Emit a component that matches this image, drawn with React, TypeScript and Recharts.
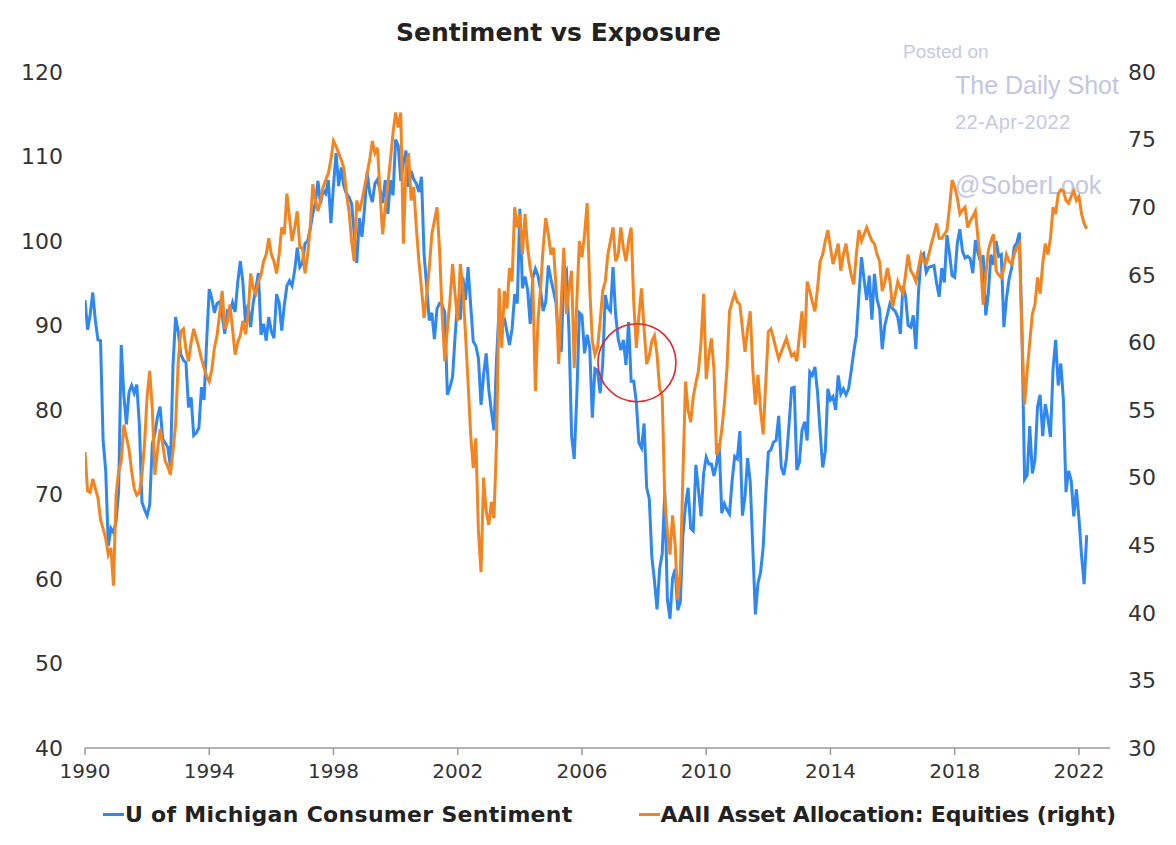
import React from "react";
import { LineChart, Line, XAxis, YAxis, ReferenceDot } from "recharts";

const startYear = 1990;

// U of Michigan Consumer Sentiment, one row per year (Jan..Dec)
const sentiment: number[][] = [
  [93.0, 89.5, 91.3, 93.9, 90.6, 88.3, 88.2, 76.4, 72.8, 63.9, 66.0, 65.5],
  [66.8, 70.4, 87.7, 81.8, 78.3, 82.1, 82.9, 82.0, 83.0, 78.3, 69.1, 68.2],
  [67.5, 68.8, 76.0, 77.2, 79.2, 80.4, 76.6, 76.1, 75.6, 73.3, 85.3, 91.0],
  [89.3, 86.6, 85.9, 85.6, 80.3, 81.5, 77.0, 77.3, 77.9, 82.7, 81.2, 88.2],
  [94.3, 93.2, 91.5, 92.6, 92.8, 91.2, 89.0, 91.7, 91.5, 92.7, 91.6, 95.1],
  [97.6, 95.1, 90.3, 92.5, 89.8, 92.7, 94.4, 96.2, 88.9, 90.2, 88.2, 91.0],
  [89.3, 88.5, 93.7, 92.7, 89.4, 92.4, 94.7, 95.3, 94.7, 96.5, 99.2, 96.9],
  [97.4, 99.7, 100.0, 101.4, 103.2, 104.5, 107.1, 104.4, 106.0, 105.6, 107.2, 102.1],
  [106.6, 110.4, 106.5, 108.7, 106.5, 105.6, 105.2, 104.4, 100.9, 97.4, 102.7, 100.5],
  [103.9, 108.1, 105.7, 104.6, 106.8, 107.3, 106.0, 104.5, 107.2, 103.2, 107.2, 105.4],
  [112.0, 111.3, 107.1, 109.2, 110.7, 106.4, 108.3, 107.3, 106.8, 105.8, 107.6, 98.4],
  [94.7, 90.6, 91.5, 88.4, 92.0, 92.6, 92.4, 91.5, 81.8, 82.7, 83.9, 88.8],
  [93.0, 90.7, 95.7, 93.0, 96.9, 92.4, 88.1, 87.6, 86.1, 80.6, 84.2, 86.7],
  [82.4, 79.9, 77.6, 86.0, 92.1, 89.7, 90.9, 89.3, 87.7, 89.6, 93.7, 92.6],
  [103.8, 94.4, 95.8, 94.2, 90.2, 95.6, 96.7, 95.9, 94.2, 91.7, 92.8, 97.1],
  [95.5, 94.1, 92.6, 87.7, 86.9, 96.0, 96.5, 89.1, 76.9, 74.2, 81.6, 91.5],
  [91.2, 86.7, 88.9, 87.4, 79.1, 84.9, 84.7, 82.0, 85.4, 93.6, 92.1, 91.7],
  [96.9, 91.3, 88.4, 87.1, 88.3, 85.3, 90.4, 83.4, 83.4, 80.9, 76.1, 75.5],
  [78.4, 70.8, 69.5, 62.6, 59.8, 56.4, 61.2, 63.0, 70.3, 57.6, 55.3, 60.1],
  [61.2, 56.3, 57.3, 65.1, 68.7, 70.8, 66.0, 65.7, 73.5, 70.6, 67.4, 72.5],
  [74.4, 73.6, 73.6, 72.2, 73.6, 76.0, 67.8, 68.9, 68.2, 67.7, 71.6, 74.5],
  [74.2, 77.5, 67.5, 69.8, 74.3, 71.5, 63.7, 55.8, 59.5, 60.8, 63.7, 69.9],
  [75.0, 75.3, 76.2, 76.4, 79.3, 73.2, 72.3, 74.3, 78.3, 82.6, 82.7, 72.9],
  [73.8, 77.6, 78.6, 76.4, 84.5, 84.1, 85.1, 82.1, 77.5, 73.2, 75.1, 82.5],
  [81.2, 81.6, 80.0, 84.1, 81.9, 82.5, 81.8, 82.5, 84.6, 86.9, 88.8, 93.6],
  [98.1, 95.4, 93.0, 95.9, 90.7, 96.1, 93.1, 91.9, 87.2, 90.0, 91.3, 92.6],
  [92.0, 91.7, 91.0, 89.0, 94.7, 93.5, 90.0, 89.8, 91.2, 87.2, 93.8, 98.2],
  [98.5, 96.3, 96.9, 97.0, 97.1, 95.0, 93.4, 96.8, 95.1, 100.7, 98.5, 95.9],
  [95.7, 99.7, 101.4, 98.8, 98.0, 98.2, 97.9, 96.2, 100.1, 98.6, 97.5, 98.3],
  [91.2, 93.8, 98.4, 97.2, 100.0, 98.2, 98.4, 89.8, 93.2, 95.5, 96.8, 99.3],
  [99.8, 101.0, 89.1, 71.8, 72.3, 78.1, 72.5, 74.1, 80.4, 81.8, 76.9, 80.7],
  [79.0, 76.8, 84.9, 88.3, 82.9, 85.5, 81.2, 70.3, 72.8, 71.7, 67.4, 70.6],
  [67.2, 62.8, 59.4, 65.2],
];

// AAII Asset Allocation: Equities (%), one row per year (Jan..Dec)
const equities: number[][] = [
  [51.9, 49.0, 48.9, 49.9, 49.2, 48.5, 46.9, 46.2, 45.5, 44.3, 44.8, 42.0],
  [48.7, 50.5, 51.2, 53.9, 53.0, 52.1, 50.5, 49.2, 48.7, 48.9, 50.2, 52.5],
  [56.0, 57.9, 55.1, 50.2, 52.0, 53.6, 52.5, 51.2, 50.8, 50.2, 52.0, 53.9],
  [58.5, 60.8, 61.0, 59.5, 58.6, 60.0, 61.0, 60.3, 59.6, 58.8, 58.1, 57.5],
  [57.1, 58.0, 59.6, 60.5, 62.1, 63.8, 61.0, 61.5, 62.8, 61.0, 59.1, 60.0],
  [60.5, 61.6, 60.6, 62.0, 65.1, 64.0, 63.6, 64.5, 65.0, 66.0, 66.5, 67.7],
  [66.5, 66.0, 65.1, 66.5, 68.5, 68.0, 71.0, 69.2, 67.5, 68.5, 69.7, 67.0],
  [67.0, 65.1, 66.5, 68.5, 71.7, 70.5, 69.7, 70.5, 71.5, 72.0, 72.5, 73.5],
  [74.9, 74.5, 74.0, 73.5, 72.9, 71.0, 69.7, 67.5, 66.0, 70.5, 69.7, 70.5],
  [71.5, 72.5, 73.5, 74.9, 74.0, 74.4, 71.0, 68.0, 70.0, 71.7, 73.5, 75.5],
  [77.0, 75.9, 77.0, 67.3, 72.9, 74.0, 70.5, 71.5, 68.5, 66.0, 64.0, 61.8],
  [63.5, 65.5, 68.0, 69.0, 70.0, 66.8, 62.0, 58.6, 61.0, 63.1, 65.8, 63.5],
  [61.6, 65.8, 64.0, 60.6, 57.0, 53.2, 50.7, 52.9, 46.0, 43.0, 50.0, 47.5],
  [46.5, 48.2, 47.0, 52.7, 64.0, 59.6, 63.8, 62.5, 65.5, 64.5, 70.0, 68.5],
  [69.5, 66.5, 69.5, 67.0, 65.5, 64.5, 56.4, 61.6, 64.0, 67.0, 69.2, 68.0],
  [66.5, 67.0, 64.0, 58.4, 63.0, 67.0, 62.1, 64.0, 65.3, 58.1, 63.0, 67.5],
  [66.3, 68.0, 70.3, 64.0, 60.1, 59.1, 59.6, 61.5, 63.8, 64.5, 66.5, 67.5],
  [68.5, 66.0, 66.5, 68.5, 67.0, 66.0, 67.5, 68.5, 63.0, 59.6, 62.0, 64.0],
  [61.0, 58.4, 59.0, 60.1, 60.5, 59.1, 56.6, 56.0, 48.4, 46.0, 44.3, 47.2],
  [45.0, 41.0, 43.0, 50.2, 57.1, 55.0, 54.1, 56.0, 57.0, 57.9, 60.0, 63.6],
  [57.3, 59.0, 60.3, 58.0, 51.7, 52.1, 53.5, 55.4, 58.0, 62.3, 63.0, 63.6],
  [63.0, 62.8, 61.0, 59.3, 61.0, 62.3, 58.0, 55.4, 57.6, 55.0, 53.2, 57.0],
  [60.8, 61.0, 60.3, 59.5, 58.8, 59.3, 59.8, 60.3, 59.6, 59.0, 59.2, 58.6],
  [60.5, 62.3, 59.6, 64.5, 63.8, 63.0, 62.3, 64.0, 66.0, 66.5, 67.5, 68.3],
  [67.0, 65.8, 66.5, 67.3, 65.3, 66.5, 67.3, 66.0, 65.0, 64.3, 66.5, 68.3],
  [67.5, 68.0, 68.5, 68.0, 67.5, 67.3, 66.5, 66.0, 63.8, 64.5, 65.5, 64.5],
  [62.6, 63.5, 64.5, 64.0, 63.6, 65.0, 66.5, 65.3, 65.0, 64.5, 65.5, 66.5],
  [66.0, 65.8, 66.5, 67.3, 68.0, 68.8, 67.7, 67.7, 68.0, 68.3, 70.0, 72.0],
  [71.5, 70.7, 69.5, 69.8, 70.0, 68.5, 69.0, 69.3, 69.7, 67.7, 66.0, 62.8],
  [65.0, 66.8, 67.5, 68.0, 65.3, 65.0, 64.8, 65.5, 66.5, 66.0, 65.8, 66.5],
  [67.0, 67.3, 60.3, 55.4, 57.9, 60.0, 62.1, 62.8, 64.8, 63.6, 65.8, 67.3],
  [66.5, 67.7, 70.0, 69.5, 71.0, 71.3, 71.2, 70.5, 70.3, 70.8, 71.2, 70.5],
  [70.8, 69.5, 68.8, 68.4],
];

const xTicks = [1990, 1994, 1998, 2002, 2006, 2010, 2014, 2018, 2022];
const leftTicks = [40, 50, 60, 70, 80, 90, 100, 110, 120];
const rightTicks = [30, 35, 40, 45, 50, 55, 60, 65, 70, 75, 80];

// red circle annotation (year, left-axis level)
const circleYear = 2007.77;
const circleLevel = 85.6;

const data = sentiment.flatMap((row, yi) =>
  row.map((v, m) => ({
    t: startYear + yi + m / 12,
    sentiment: v,
    equities: equities[yi][m],
  }))
);

const BLUE = "#2f87f2";
const ORANGE = "#f28522";
const tickFont = { fill: "#333333", fontSize: 22, fontFamily: "DejaVu Sans" };

export default function App() {
  return (
    <div
      style={{
        position: "relative",
        width: 1176,
        height: 845,
        margin: -8,
        background: "#ffffff",
        overflow: "hidden",
        fontFamily: "DejaVu Sans",
      }}
    >
      <div style={{ position: "absolute", left: 4, top: 0, width: 3, height: 845, background: "#cfcfcf" }} />

      <div
        style={{
          position: "absolute",
          left: 0,
          width: 1117,
          top: 18,
          textAlign: "center",
          fontSize: 25,
          fontWeight: 700,
          color: "#222",
        }}
      >
        Sentiment vs Exposure
      </div>

      <div style={{ position: "absolute", left: 903, top: 41, fontSize: 19, color: "#c6c9e2", fontFamily: "Liberation Sans" }}>
        Posted on
      </div>
      <div style={{ position: "absolute", left: 955, top: 71, fontSize: 25, color: "#c3c6e3", fontFamily: "Liberation Sans" }}>
        The Daily Shot
      </div>
      <div style={{ position: "absolute", left: 955, top: 111, fontSize: 20, color: "#c6c9e2", fontFamily: "Liberation Sans", letterSpacing: 0.4 }}>
        22-Apr-2022
      </div>
      <div style={{ position: "absolute", left: 955, top: 171, fontSize: 25, color: "#c3c6e3", fontFamily: "Liberation Sans" }}>
        @SoberLook
      </div>

      <div style={{ position: "absolute", left: 0, top: 0 }}>
        <LineChart width={1176} height={845} data={data} margin={{ top: 72, right: 0, bottom: 57, left: 0 }}>
          <XAxis
            dataKey="t"
            type="number"
            domain={[1990, 2023]}
            ticks={xTicks}
            interval={0}
            allowDataOverflow
            height={40}
            axisLine={{ stroke: "#9a9a9a", strokeWidth: 1.5 }}
            tickLine={{ stroke: "#9a9a9a", strokeWidth: 1.5 }}
            tickSize={7}
            tickMargin={9}
            tick={{ ...tickFont, fontSize: 20 }}
          />
          <YAxis
            yAxisId="left"
            orientation="left"
            domain={[40, 120]}
            ticks={leftTicks}
            interval={0}
            width={85}
            axisLine={false}
            tickLine={false}
            tickSize={0}
            tickMargin={22}
            tick={tickFont}
          />
          <YAxis
            yAxisId="right"
            orientation="right"
            domain={[30, 80]}
            ticks={rightTicks}
            interval={0}
            width={66}
            axisLine={false}
            tickLine={false}
            tickSize={0}
            tickMargin={18}
            tick={{ ...tickFont, textAnchor: "start" }}
          />
          <Line
            yAxisId="left"
            type="linear"
            dataKey="sentiment"
            stroke={BLUE}
            strokeWidth={3}
            dot={false}
            isAnimationActive={false}
          />
          <Line
            yAxisId="right"
            type="linear"
            dataKey="equities"
            stroke={ORANGE}
            strokeWidth={3}
            dot={false}
            isAnimationActive={false}
          />
          <ReferenceDot
            yAxisId="left"
            x={circleYear}
            y={circleLevel}
            r={39}
            fill="none"
            stroke="#e3262d"
            strokeWidth={1.6}
          />
        </LineChart>
      </div>

      <div
        style={{
          position: "absolute",
          left: 103,
          top: 802,
          display: "flex",
          alignItems: "center",
          fontSize: 22,
          fontWeight: 700,
          color: "#222",
          whiteSpace: "nowrap",
        }}
      >
        <span style={{ display: "inline-block", width: 21, height: 3, background: BLUE, marginRight: 1 }} />
        <span style={{ letterSpacing: 0.3 }}>U of Michigan Consumer Sentiment</span>
        <span style={{ display: "inline-block", width: 21, height: 3, background: ORANGE, marginLeft: 66, marginRight: 1 }} />
        <span style={{ letterSpacing: -0.2 }}>AAII Asset Allocation: Equities (right)</span>
      </div>
    </div>
  );
}
